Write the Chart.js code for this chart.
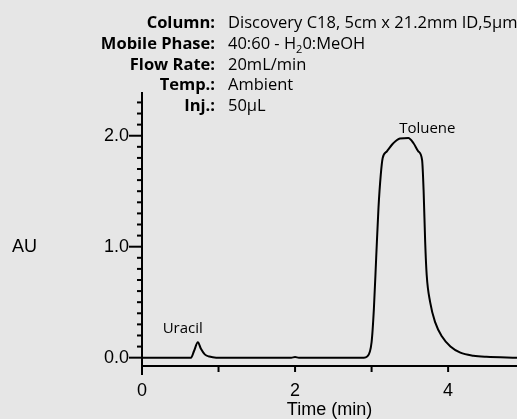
<!DOCTYPE html>
<html>
<head>
<meta charset="utf-8">
<script src="https://cdn.jsdelivr.net/npm/chart.js@4.4.0/dist/chart.umd.min.js"></script>
<style>
  html, body { margin: 0; padding: 0; background: #e6e6e6; }
  #wrap { width: 517px; height: 419px; position: relative; }
</style>
</head>
<body>
<div id="wrap"><canvas id="chrom" width="517" height="419"></canvas></div>
<script>
// chromatogram trace
const timeMin = [0, 0.64, 0.68, 0.73, 0.77, 0.82, 0.88, 0.97, 1.95, 2.0, 2.05,
  2.9, 2.94, 3.0, 3.03, 3.06, 3.09, 3.12, 3.145, 3.2, 3.28, 3.37, 3.48, 3.55, 3.61,
  3.66, 3.68, 3.7, 3.72, 3.765, 3.83, 3.92, 4.03, 4.16, 4.33, 4.5, 4.9];
const absorb = [0, 0, 0.06, 0.14, 0.08, 0.03, 0.01, 0, 0, 0.006, 0,
  0, 0.01, 0.14, 0.44, 0.9, 1.35, 1.65, 1.8, 1.86, 1.93, 1.976, 1.98, 1.93, 1.86,
  1.78, 1.5, 1.045, 0.745, 0.5, 0.32, 0.19, 0.1, 0.045, 0.018, 0.008, 0];

const yMajor = [0, 1, 2];
const yMinor = [0.1, 0.2, 0.3, 0.4, 0.5, 0.6, 0.7, 0.8, 0.9, 1.1, 1.2, 1.3, 1.4, 1.5,
  1.6, 1.7, 1.8, 1.9, 2.1, 2.2, 2.3];
const xTicks = [0, 1, 2, 3, 4];
const xLabels = [0, 2, 4];

const peaks = [
  { name: 'Uracil', t: 0.27, v: 0.26 },
  { name: 'Toluene', t: 3.36, v: 2.06 }
];

const condLabels = ['Column:', 'Mobile Phase:', 'Flow Rate:', 'Temp.:', 'Inj.:'];
const condValues = ['Discovery C18, 5cm x 21.2mm ID,5\u00b5m', '40:60 - H|2|0:MeOH', '20mL/min', 'Ambient', '50\u00b5L'];

const annoFont = '"Open Sans", "Noto Sans", sans-serif';
const axisFont = '"Liberation Sans", Arial, sans-serif';

const extras = {
  id: 'extras',
  afterDraw(chart) {
    const ctx = chart.ctx;
    const x = chart.scales.x, y = chart.scales.y;
    const area = chart.chartArea;
    ctx.save();
    ctx.strokeStyle = '#000';
    ctx.lineWidth = 2;
    // y ticks
    yMajor.forEach(v => {
      const py = y.getPixelForValue(v);
      ctx.beginPath(); ctx.moveTo(area.left - 13, py); ctx.lineTo(area.left, py); ctx.stroke();
    });
    yMinor.forEach(v => {
      const py = y.getPixelForValue(v);
      ctx.beginPath(); ctx.moveTo(area.left - 5, py); ctx.lineTo(area.left, py); ctx.stroke();
    });
    // x ticks
    xTicks.forEach(v => {
      const px = x.getPixelForValue(v);
      ctx.beginPath(); ctx.moveTo(px, area.bottom); ctx.lineTo(px, area.bottom + (v === 0 ? 9 : 6)); ctx.stroke();
    });

    // AU
    ctx.fillStyle = '#000';
    ctx.font = '18px ' + axisFont;
    ctx.textAlign = 'left';
    ctx.textBaseline = 'middle';
    ctx.fillText('AU', 12, y.getPixelForValue(1));

    // peak names
    ctx.font = '15px ' + annoFont;
    peaks.forEach(p => {
      ctx.fillText(p.name, x.getPixelForValue(p.t), y.getPixelForValue(p.v));
    });

    // run conditions
    ctx.textBaseline = 'alphabetic';
    condLabels.forEach((lab, i) => {
      const by = 28 + i * 20.8;
      ctx.font = 'bold 16.5px ' + annoFont;
      ctx.textAlign = 'right';
      ctx.fillText(lab, 215, by);
      ctx.textAlign = 'left';
      const parts = condValues[i].split('|');
      let cx = 228;
      parts.forEach((s, j) => {
        if (j === 1) {
          ctx.font = '11px ' + annoFont;
          ctx.fillText(s, cx, by + 4);
        } else {
          ctx.font = '16.5px ' + annoFont;
          ctx.fillText(s, cx, by);
        }
        cx += ctx.measureText(s).width;
      });
    });
    ctx.restore();
  }
};

new Chart(document.getElementById('chrom'), {
  type: 'line',
  data: {
    datasets: [{
      data: timeMin.map((t, i) => ({ x: t, y: absorb[i] })),
      borderColor: '#000',
      borderWidth: 2,
      pointRadius: 0,
      cubicInterpolationMode: 'monotone',
      fill: false
    }]
  },
  options: {
    responsive: false,
    animation: false,
    layout: { padding: { top: 93, right: 0, bottom: 0, left: 0 } },
    plugins: { legend: { display: false }, tooltip: { enabled: false } },
    scales: {
      x: {
        type: 'linear',
        min: 0, max: 4.9,
        afterBuildTicks(s) { s.ticks = xTicks.map(v => ({ value: v })); },
        afterFit(s) { s.height = 53; s.paddingRight = 0; s.paddingLeft = 0; },
        grid: { display: false, drawTicks: false },
        border: { display: true, color: '#000', width: 2 },
        ticks: {
          padding: 14,
          color: '#000',
          font: { family: axisFont, size: 18 },
          maxRotation: 0,
          autoSkip: false,
          callback: v => xLabels.includes(v) ? String(v) : ''
        },
        title: {
          display: true,
          text: 'Time (min)',
          color: '#000',
          font: { family: axisFont, size: 18, lineHeight: 1.05 },
          padding: { top: 0, bottom: 0 }
        }
      },
      y: {
        min: -0.075, max: 2.385,
        afterBuildTicks(s) { s.ticks = yMajor.map(v => ({ value: v })); },
        afterFit(s) { s.width = 142; },
        grid: { display: false, drawTicks: false },
        border: { display: true, color: '#000', width: 2 },
        ticks: {
          padding: 13,
          color: '#000',
          autoSkip: false,
          font: { family: axisFont, size: 18 },
          callback: v => v.toFixed(1)
        }
      }
    }
  },
  plugins: [extras]
});
</script>
</body>
</html>
